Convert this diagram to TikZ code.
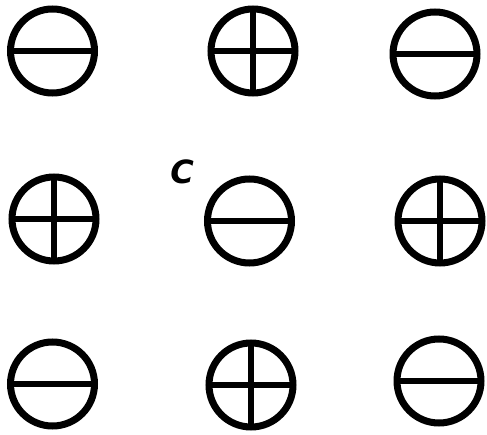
\documentclass[tikz,border=0pt]{standalone}
\usepackage{fontspec}
\newfontfamily\labelfont{DejaVu Sans}
\begin{document}
\begin{tikzpicture}[x=1pt,y=-1pt,
  ring/.style={circle,draw=black,line width=7pt,minimum size=84pt,inner sep=0pt,outer sep=0pt},
  bar/.style={line width=6.5pt,black}]
\useasboundingbox (0,0) rectangle (487,435);
% row 1
\node[ring] (a1) at (52.5,51) {};
\node[ring] (a2) at (253,51) {};
\node[ring] (a3) at (435,54) {};
% row 2
\node[ring] (b1) at (54,219) {};
\node[ring] (b2) at (249.5,221) {};
\node[ring] (b3) at (440,221) {};
% row 3
\node[ring] (c1) at (52.5,384) {};
\node[ring] (c2) at (251,385) {};
\node[ring] (c3) at (439,381) {};
% minus signs
\foreach \n in {a1,a3,b2,c1,c3}{
  \draw[bar] (\n.west) -- (\n.east);
}
% plus signs
\foreach \n in {a2,b1,b3,c2}{
  \draw[bar] (\n.west) -- (\n.east);
  \draw[bar] (\n.north) -- (\n.south);
}
\node[font=\labelfont\bfseries\itshape\fontsize{32}{32}\selectfont,inner sep=0pt] (lbl) at (182,172) {C};
\end{tikzpicture}
\end{document}
